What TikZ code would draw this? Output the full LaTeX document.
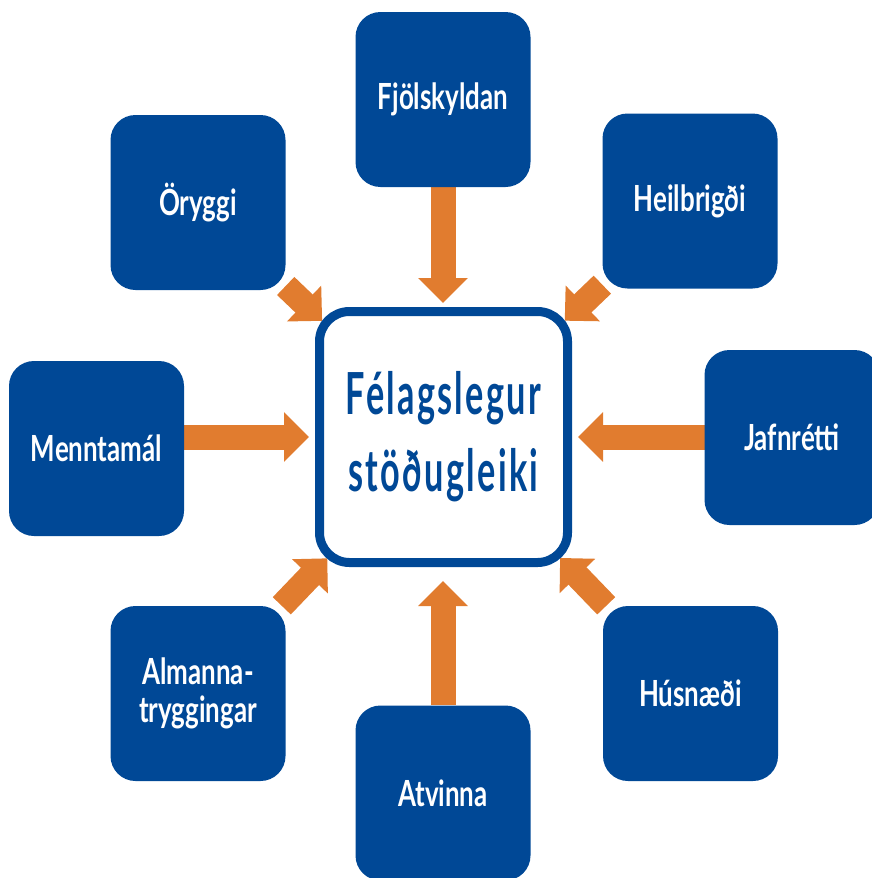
\documentclass[tikz,border=0pt]{standalone}
\usepackage{fontspec}
\usepackage{tikz}
\usetikzlibrary{arrows.meta, positioning, backgrounds}
\newfontfamily\labelfont[FakeStretch=0.72]{Lato}
\newfontfamily\hubfont[FakeStretch=0.59, LetterSpace=4]{Lato}
\definecolor{boxcolor}{RGB}{0, 72, 150}
\definecolor{arrowcolor}{RGB}{225, 124, 47}
\tikzset{
    % Outer topic boxes
    topicnode/.style={
        fill=boxcolor, draw=none, text=white, align=center,
        font=\labelfont\bfseries\fontsize{36}{38}\selectfont,
        minimum width=175pt, minimum height=175pt,
        rounded corners=25pt
    },
    % Central box
    hubnode/.style={
        fill=white, draw=boxcolor, line width=9pt, text=boxcolor, align=center,
        font=\hubfont\bfseries\fontsize{58}{77}\selectfont,
        minimum width=248pt, minimum height=251pt,
        rounded corners=30pt
    },
    % Arrows
    blockarrow/.style={arrowcolor, line width=25pt, -{Triangle[width=48pt, length=25pt]}},
}
\begin{document}
\begin{tikzpicture}[x=1pt, y=-1pt]

\useasboundingbox (0,0) rectangle (872,878);
\clip (0,0) rectangle (872,878);

% Centre
\node (hub) [hubnode] at (443.5, 437) {F\'elagslegur\\st\"o\dh ugleiki};

% Nodes around it
\node (family) [topicnode] at (443, 99.5) {Fj\"olskyldan};
\node (safety) [topicnode] at (198, 202.5) {\"Oryggi};
\node (health) [topicnode] at (690, 201) {Heilbrig\dh i};
\node (education) [topicnode] at (96.5, 448.5) {Menntam\'al};
\node (equality) [topicnode] at (792, 437.5) {Jafnr\'etti};
\node (welfare) [topicnode] at (198, 693.5) {Almanna-\\tryggingar};
\node (work) [topicnode] at (443, 793) {Atvinna};
\node (housing) [topicnode] at (690.5, 693.5) {H\'usn\ae\dh i};

% Arrows behind the boxes
\begin{scope}[on background layer]
\draw[blockarrow, shorten >=4pt] (family) -- (hub.north -| family);
\draw[blockarrow, shorten >=6pt] (education |- hub) -- (hub.west);
\draw[blockarrow, shorten >=6pt] (equality |- hub) -- (hub.east);
\draw[blockarrow, shorten >=14pt] (work) -- (hub.south -| work);
\draw[blockarrow, shorten >=168pt] (safety) -- (hub.center);
\draw[blockarrow, shorten >=168pt] (health) -- (hub.center);
\draw[blockarrow, shorten >=168pt] (welfare) -- (hub.center);
\draw[blockarrow, shorten >=168pt] (housing) -- (hub.center);
\end{scope}

\end{tikzpicture}
\end{document}
